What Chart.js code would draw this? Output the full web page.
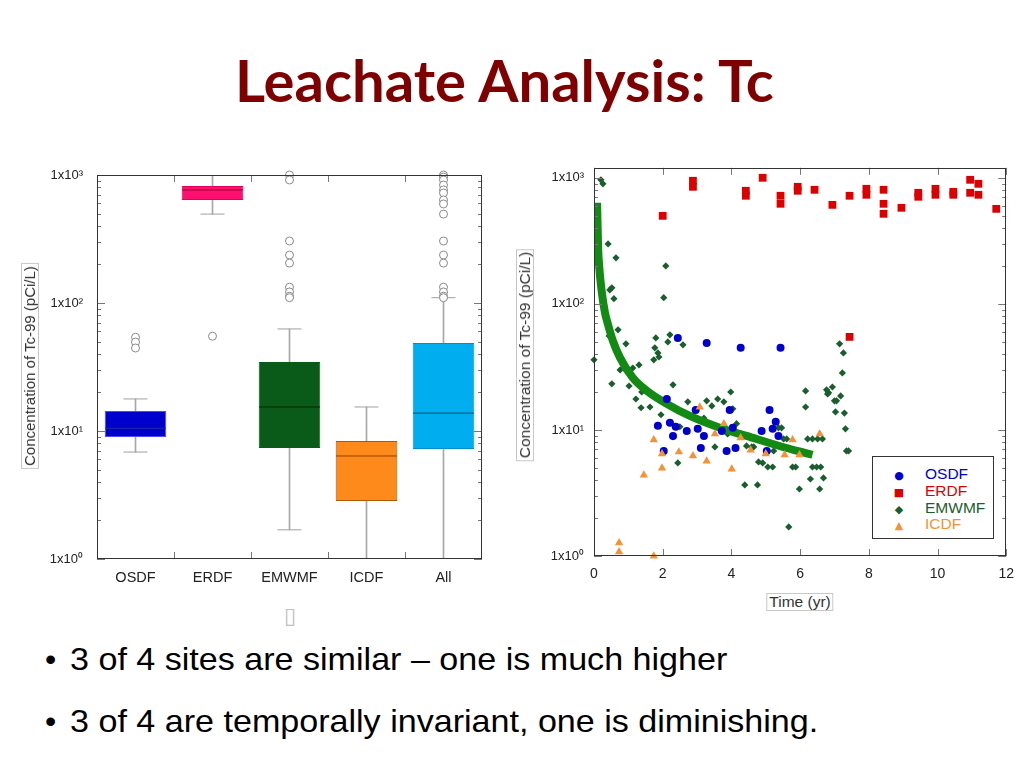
<!DOCTYPE html>
<html>
<head>
<meta charset="utf-8">
<title>Leachate Analysis: Tc</title>
<script src="https://cdn.jsdelivr.net/npm/chart.js@4.4.1/dist/chart.umd.min.js"></script>
<style>
  body { margin: 0; background: #fff; width: 1024px; height: 768px; overflow: hidden; position: relative; font-family: "Liberation Sans", Arial, sans-serif; }
  .abs { position: absolute; }
  canvas { position: absolute; }
  #title { left: 235px; top: 51px; font: 700 58px Lato, "Open Sans", sans-serif; line-height: 58px; color: #7f0000; white-space: nowrap; }
  .bullet { left: 45px; font-size: 32px; line-height: 32px; color: #000; white-space: nowrap; }
  .bullet span { display: inline-block; transform-origin: left center; transform: scaleX(1.065); position: absolute; left: 25px; }
  .axtitle { white-space: nowrap; border: 1px solid #c8c8c8; padding: 0 2px; color: #333; line-height: 16px; transform: translate(-50%, -50%); }
  .rot { transform: translate(-50%, -50%) rotate(-90deg); }
  #legend { left: 872px; top: 456px; width: 120px; height: 81px; border: 1px solid #333; background: #fff; }
  #legend div { position: absolute; left: 0; font-size: 15.5px; line-height: 16px; white-space: nowrap; }
  #legend b { display: inline-block; width: 52px; text-align: center; font-weight: normal; font-family: "DejaVu Sans", sans-serif; font-size: 11px; }
</style>
</head>
<body>
<div id="title" class="abs">Leachate Analysis: Tc</div>

<canvas id="boxChart" width="500" height="450" style="left:0;top:150px"></canvas>
<canvas id="timeChart" width="514" height="440" style="left:510px;top:150px"></canvas>

<div class="abs axtitle rot" style="left:30px;top:366px;font-size:15px">Concentration of Tc-99 (pCi/L)</div>
<div class="abs axtitle rot" style="left:525px;top:355px;font-size:15.5px">Concentration of Tc-99 (pCi/L)</div>
<div class="abs axtitle" style="left:800px;top:602px;font-size:15.5px">Time (yr)</div>
<div id="legend" class="abs"></div>

<div class="abs" style="left:284px;top:603px;font:22px 'DejaVu Sans';color:#c0c0c0">▯</div>

<div class="abs bullet" style="top:643px">•<span>3 of 4 sites are similar – one is much higher</span></div>
<div class="abs bullet" style="top:705px">•<span>3 of 4 are temporally invariant, one is diminishing.</span></div>

<script>
// ---- box plot (left) ----
const siteNames = ['OSDF', 'ERDF', 'EMWMF', 'ICDF', 'All'];
const boxLow = [8.98, 638, 7.36, 2.84, 7.23];
const boxHigh = [14.3, 820, 34.6, 8.35, 48.7];
const medians = [10.5, 764, 15.4, 6.38, 13.8];
const whiskerLow = [6.85, 495, 1.69, 1.0, 1.0];
const whiskerHigh = [17.8, 1000, 62.7, 15.4, 110];
const outliersOSDF = [54, 49.5, 44.5];
const outliersERDF = [55];
const outliersEMWMF = [1000, 914, 305, 237, 205, 133, 122, 113, 110];
const outliersICDF = [];
const outliersAll = [1000, 964, 914, 835, 764, 724, 638, 594, 495, 305, 237, 205, 133, 122, 113, 110];

const boxColors = ['#0000cc', '#ff0f6e', '#0a5a1a', '#ff8a1c', '#00adef'];
const boxEdges = ['#4a4aff', '#e0005a', '#0a5a1a', '#b05800', '#0090c8'];
const medianColors = ['#2a2a9a', '#99002e', '#002800', '#8a4000', '#0a5070'];

// ---- time series (right) ----
const osdfTime = [2.44, 3.28, 4.27, 5.43, 2.12, 1.86, 2.21, 2.38, 2.30, 2.03, 2.70, 2.96, 3.02, 3.20, 3.11, 3.72, 3.95, 4.04, 3.86, 4.12, 4.88, 5.11, 5.29, 5.20, 5.37, 5.03];
const osdfConc = [53.7, 49.0, 44.8, 44.8, 17.6, 10.8, 11.4, 10.6, 8.96, 6.81, 9.82, 14.4, 10.2, 8.96, 7.19, 9.82, 14.4, 10.4, 6.81, 7.19, 9.82, 14.4, 11.6, 10.2, 8.96, 6.81];

const erdfTime = [2.0, 2.88, 2.88, 4.42, 4.42, 4.91, 5.43, 5.43, 5.93, 5.93, 6.42, 6.94, 7.44, 7.93, 7.93, 8.43, 8.43, 8.43, 8.95, 9.44, 9.44, 9.94, 9.94, 10.46, 10.46, 10.95, 10.95, 11.19, 11.19, 11.71, 7.44];
const erdfConc = [499, 947, 848, 789, 720, 1000, 720, 622, 848, 789, 803, 610, 720, 818, 733, 803, 622, 518, 578, 760, 707, 818, 733, 774, 733, 964, 760, 896, 733, 567, 54.7];

const emwmfTime = [0.20, 0.26, 0.41, 0.64, 0.46, 0.52, 0.58, 2.09, 2.03, 0.70, 0.93, 0.44, 0.0, 1.80, 2.21, 2.15, 2.59, 1.77, 1.86, 1.89, 1.74, 0.76, 1.13, 1.31, 0.52, 1.02, 2.30, 1.22, 1.37, 1.63, 1.39, 1.95, 2.50, 2.44, 2.73, 2.30, 3.28, 3.43, 3.60, 3.78, 3.98, 4.04, 3.20, 3.52, 4.15, 3.89, 4.44, 4.59, 4.65, 4.39, 4.76, 4.79, 4.91, 5.06, 5.20, 5.37, 5.46, 5.52, 5.61, 5.23, 5.67, 5.78, 5.87, 5.98, 6.16, 6.16, 6.22, 6.36, 6.51, 6.65, 6.30, 6.36, 6.48, 6.60, 6.57, 6.68, 6.77, 6.83, 6.94, 6.80, 7.00, 7.06, 7.18, 7.15, 7.26, 7.23, 7.03, 7.29, 7.32, 7.35, 7.41];
const emwmfConc = [964, 896, 299, 232, 129, 134, 110, 200, 112, 62.2, 48.2, 55.7, 36, 53.7, 56.8, 49.9, 47.3, 44.8, 40.8, 37.9, 36, 29.9, 31.0, 32.8, 23.2, 22.3, 22.8, 17.6, 15.0, 15.2, 20.0, 13.2, 10.6, 5.47, 16.7, 8.79, 17.0, 15.5, 17.6, 16.7, 20.0, 14.7, 12.4, 7.33, 11.2, 9.29, 7.46, 7.33, 7.33, 3.66, 3.66, 5.57, 5.47, 5.08, 5.08, 10.4, 10.4, 8.49, 8.49, 6.81, 1.70, 5.08, 5.08, 3.40, 20.4, 15.2, 8.49, 8.49, 8.49, 8.49, 4.08, 5.08, 5.08, 5.08, 3.40, 4.16, 20.8, 19.7, 21.9, 19.3, 17.0, 17.0, 18.6, 48.2, 40.8, 28.3, 13.9, 13.6, 10.2, 6.81, 6.81];

const icdfTime = [3.08, 3.78, 3.52, 1.74, 1.98, 2.47, 1.98, 1.45, 2.88, 3.28, 4.01, 4.27, 4.56, 5.0, 5.55, 5.78, 5.98, 6.57, 0.73, 0.73, 1.74];
const icdfConc = [15.2, 11.2, 9.29, 8.34, 6.46, 6.69, 4.99, 4.39, 6.22, 5.67, 4.90, 8.65, 6.93, 6.46, 6.34, 8.34, 6.34, 9.29, 1.27, 1.08, 1.0];

// fitted EMWMF trend
const fitTime = [0.09, 0.12, 0.15, 0.23, 0.32, 0.38, 0.55, 0.76, 1.13, 1.54, 2.12, 2.79, 3.66, 4.44, 5.40, 6.36];
const fitConc = [634, 280, 200, 122, 85, 73, 50.8, 37.3, 25.9, 20.4, 16.1, 12.9, 10.4, 8.96, 7.46, 6.34];

const seriesNames = ['OSDF', 'ERDF', 'EMWMF', 'ICDF'];
const seriesColors = ['#0000cc', '#dd0000', '#1b5e2e', '#f39237'];
const legendGlyphs = ['●', '■', '◆', '▲'];

const logTicks = [1, 10, 100, 1000];
const sup = ['⁰', '¹', '²', '³'];

function zip(xs, ys) {
   return xs.map(function (x, i) { return { x: x, y: ys[i] }; });
}

function decadeLabel(v) {
   const i = logTicks.indexOf(v);
   return i < 0 ? '' : '1x10' + sup[i];
}

// frame and inward tick marks (the charts draw ticks inside the plot box)
const frameTicks = {
   id: 'frameTicks',
   afterDatasetsDraw(chart) {
      const ctx = chart.ctx, a = chart.chartArea;
      const xs = chart.scales.x, ys = chart.scales.y;
      ctx.save();
      ctx.lineWidth = 1;
      ctx.strokeStyle = '#777';
      ctx.beginPath();
      ys.ticks.forEach(function (t) {
         const e = Math.floor(Math.log10(t.value) + 1e-9);
         const m = t.value / Math.pow(10, e);
         if (Math.abs(m - Math.round(m)) > 1e-6) return;
         const len = Math.round(m) === 1 ? 8 : 4;
         const py = Math.round(ys.getPixelForValue(t.value)) + 0.5;
         ctx.moveTo(a.left, py); ctx.lineTo(a.left + len, py);
         ctx.moveTo(a.right, py); ctx.lineTo(a.right - len, py);
      });
      let xp = [];
      if (xs.type === 'category') {
         for (let i = 0; i < xs.ticks.length - 1; i++) {
            xp.push((xs.getPixelForValue(i) + xs.getPixelForValue(i + 1)) / 2);
         }
      } else {
         xp = xs.ticks.map(function (t) { return xs.getPixelForValue(t.value); });
      }
      xp.forEach(function (px) {
         px = Math.round(px) + 0.5;
         ctx.moveTo(px, a.top); ctx.lineTo(px, a.top + 7);
         ctx.moveTo(px, a.bottom); ctx.lineTo(px, a.bottom - 7);
      });
      ctx.stroke();
      ctx.strokeStyle = '#333';
      ctx.strokeRect(Math.round(a.left) + 0.5, Math.round(a.top) + 0.5, Math.round(a.right - a.left) - 1, Math.round(a.bottom - a.top) - 1);
      ctx.restore();
   }
};

Chart.defaults.font.family = '"Liberation Sans", Arial, sans-serif';
Chart.defaults.color = '#222';
Chart.defaults.animation = false;

// ---- left: box plot ----
const outlierPoints = [];
[outliersOSDF, outliersERDF, outliersEMWMF, outliersICDF, outliersAll].forEach(function (list, i) {
   list.forEach(function (v) { outlierPoints.push({ x: siteNames[i], y: v }); });
});
const capPoints = [];
siteNames.forEach(function (s, i) {
   capPoints.push({ x: s, y: whiskerLow[i] });
   capPoints.push({ x: s, y: whiskerHigh[i] });
});

new Chart(document.getElementById('boxChart'), {
   type: 'bar',
   plugins: [frameTicks],
   data: {
      labels: siteNames,
      datasets: [{
         type: 'line',
         label: 'outliers',
         data: outlierPoints,
         showLine: false,
         pointStyle: 'circle',
         pointRadius: 4,
         pointBackgroundColor: '#fff',
         pointBorderColor: '#8a8a8a',
         pointBorderWidth: 1,
         clip: false,
         order: 0
      }, {
         type: 'line',
         label: 'median',
         data: medians,
         showLine: false,
         pointStyle: 'line',
         pointRadius: 30.5,
         pointBorderColor: medianColors,
         pointBorderWidth: 1,
         order: 1
      }, {
         type: 'line',
         label: 'caps',
         data: capPoints,
         showLine: false,
         pointStyle: 'line',
         pointRadius: 12,
         pointBorderColor: '#a0a0a0',
         pointBorderWidth: 1,
         order: 2
      }, {
         label: 'box',
         data: siteNames.map(function (s, i) { return [boxLow[i], boxHigh[i]]; }),
         backgroundColor: boxColors,
         borderColor: boxEdges,
         borderWidth: 1,
         borderSkipped: false,
         barPercentage: 0.8,
         categoryPercentage: 1,
         grouped: false,
         order: 3
      }, {
         label: 'whisker',
         data: siteNames.map(function (s, i) { return [whiskerLow[i], whiskerHigh[i]]; }),
         backgroundColor: '#a8a8a8',
         borderWidth: 0,
         barThickness: 1,
         grouped: false,
         order: 4
      }]
   },
   options: {
      responsive: false,
      layout: { autoPadding: false, padding: { top: 25, right: 18, left: 0, bottom: 0 } },
      plugins: { legend: { display: false }, tooltip: { enabled: false } },
      scales: {
         x: {
            grid: { display: false, drawTicks: false },
            border: { display: false },
            ticks: { padding: 10, font: { size: 14.5 }, color: '#222' },
            afterFit: function (s) { s.height = 41; }
         },
         y: {
            type: 'logarithmic',
            min: 1,
            max: 1000,
            grid: { display: false, drawTicks: false },
            border: { display: false },
            ticks: { autoSkip: false, padding: 14, font: { size: 13 }, color: '#222', callback: decadeLabel },
            afterFit: function (s) { s.width = 97; }
         }
      }
   }
});

// ---- right: concentration vs time ----
const timeSets = [zip(osdfTime, osdfConc), zip(erdfTime, erdfConc), zip(emwmfTime, emwmfConc), zip(icdfTime, icdfConc)];
const styles = [
   { pointStyle: 'circle', pointRadius: 4, order: 2 },
   { pointStyle: 'rect', pointRadius: 5.5, order: 0 },
   { pointStyle: 'rectRot', pointRadius: 3.6, order: 4 },
   { pointStyle: 'triangle', pointRadius: 4.8, order: 1 }
];
const scatterSets = seriesNames.map(function (name, i) {
   return {
      label: name,
      data: timeSets[i],
      pointStyle: styles[i].pointStyle,
      pointRadius: styles[i].pointRadius,
      backgroundColor: seriesColors[i],
      borderColor: seriesColors[i],
      borderWidth: 0,
      clip: false,
      order: styles[i].order
   };
});
scatterSets.push({
   type: 'line',
   label: 'fit',
   data: zip(fitTime, fitConc),
   borderColor: '#138a13',
   borderWidth: 8,
   pointRadius: 0,
   cubicInterpolationMode: 'monotone',
   order: 3
});

new Chart(document.getElementById('timeChart'), {
   type: 'scatter',
   plugins: [frameTicks],
   data: { datasets: scatterSets },
   options: {
      responsive: false,
      layout: { autoPadding: false, padding: { top: 17, right: 17, left: 0, bottom: 0 } },
      plugins: { legend: { display: false }, tooltip: { enabled: false } },
      scales: {
         x: {
            type: 'linear',
            min: 0,
            max: 12,
            grid: { display: false, drawTicks: false },
            border: { display: false },
            ticks: { stepSize: 2, padding: 10, font: { size: 14 }, color: '#222' },
            afterFit: function (s) { s.height = 34; }
         },
         y: {
            type: 'logarithmic',
            min: 1,
            max: 1200,
            grid: { display: false, drawTicks: false },
            border: { display: false },
            ticks: { autoSkip: false, padding: 10, font: { size: 13 }, color: '#222', callback: decadeLabel },
            afterFit: function (s) { s.width = 84; }
         }
      }
   }
});

// legend box inside the right plot
const legendRows = [473, 489.5, 506.5, 523];
const legend = document.getElementById('legend');
seriesNames.forEach(function (name, i) {
   const row = document.createElement('div');
   row.style.top = (legendRows[i] - 456 - 8) + 'px';
   row.style.color = seriesColors[i];
   row.innerHTML = '<b>' + legendGlyphs[i] + '</b>' + name;
   legend.appendChild(row);
});
</script>
</body>
</html>
